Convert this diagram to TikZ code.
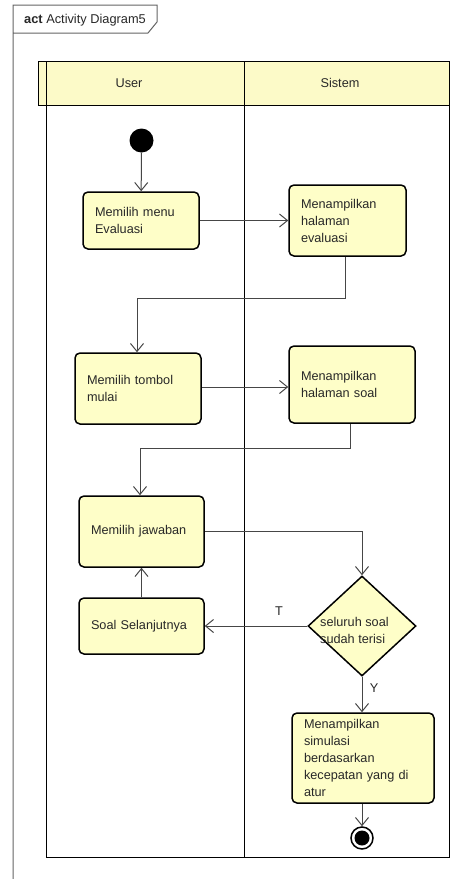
\documentclass[tikz,border=0pt]{standalone}
\usepackage{fontspec}
\setmainfont{Liberation Sans}
\usetikzlibrary{shapes.geometric,arrows.meta}
\definecolor{actfill}{RGB}{254,254,200}
\definecolor{hdrfill}{RGB}{252,250,200}
\definecolor{ink}{RGB}{40,40,40}
\definecolor{wire}{RGB}{70,70,70}
\definecolor{framec}{RGB}{100,100,100}
\begin{document}
\begin{tikzpicture}[x=1pt,y=-1pt,
  every node/.style={font=\fontsize{12.7}{17}\selectfont, text=ink},
  action/.style={draw=black, line width=1.5pt, rounded corners=5pt, fill=actfill,
                 inner xsep=12pt, inner ysep=0pt, align=left, anchor=center},
  flow/.style={draw=wire, line width=1pt, -{Straight Barb[length=8pt,width=13pt]}},
  lane/.style={draw=black, line width=0.8pt},
  plain/.style={inner sep=0pt},
]
% canvas
\fill[white] (0,0) rectangle (476,879);
\useasboundingbox (0,0) rectangle (476,879);

% diagram frame with its name tab
\draw[framec, line width=1pt] (13,879) -- (13,5) -- (157,5) -- (157,22) -- (148,33) -- (13,33);
\node[plain, anchor=west, font=\fontsize{12.8}{14}\selectfont] (title) at (24,20) {\textbf{act} Activity Diagram5};

% swimlanes
\draw[lane, fill=hdrfill] (38,61) rectangle (449,105);
\draw[lane] (46,61) -- (46,105);
\draw[lane] (46,105) rectangle (449,857);
\draw[lane] (244,61) -- (244,857);
\node[plain] (userhd) at (129,83) {User};
\node[plain] (sishd) at (340,83) {Sistem};

% initial and final nodes
\node[circle, fill=black, minimum size=24pt, inner sep=0pt] (start) at (141.5,140.5) {};
\node[circle, draw=black, line width=1.5pt, fill=white, minimum size=22pt, inner sep=0pt] (stop) at (362,838) {};
\fill[black] (stop.center) circle (7.5pt);

% actions
\node[action, text width=92pt, minimum height=57pt] (box1) at (141,220.5) {Memilih menu\\Evaluasi};
\node[action, text width=93pt, minimum height=71pt] (box2) at (347.5,220.5) {Menampilkan\\halaman\\evaluasi};
\node[action, text width=102pt, minimum height=71pt] (box3) at (138,388.5) {Memilih tombol\\mulai};
\node[action, text width=102pt, minimum height=77pt] (box4) at (352,384.5) {Menampilkan\\halaman soal};
\node[action, text width=101pt, minimum height=71pt] (box5) at (141.5,531.5) {Memilih jawaban};
\node[action, text width=101pt, minimum height=56pt] (box6) at (141.5,626) {Soal Selanjutnya};
\node[action, text width=118pt, minimum height=90pt] (box7) at (363,758) {Menampilkan\\simulasi\\berdasarkan\\kecepatan yang di\\atur};

% decision
\node[diamond, draw=black, line width=1.5pt, fill=actfill, minimum width=108pt, minimum height=100pt, inner sep=0pt] (dec) at (362,626) {};
\node[plain, anchor=west, align=left] (dectext) at (320,630) {seluruh soal\\sudah terisi};

% bend points
\coordinate (a1) at (345,298);
\coordinate (a2) at (137,298);
\coordinate (r2) at (0,387);
\coordinate (a3) at (350,448);
\coordinate (a4) at (140,448);

% flows
\draw[flow] (start) -- (box1);
\draw[flow] (box1.east) -- (box2.west);
\draw[flow] (box2.south -| a1) -- (a1) -- (a2) -- (box3.north -| a2);
\draw[flow] (box3.east |- r2) -- (box4.west |- r2);
\draw[flow] (box4.south -| a3) -- (a3) -- (a4) -- (box5.north -| a4);
\draw[flow] (box5.east) -| (dec.north);
\draw[flow] (dec.west) -- (box6.east);
\draw[flow] (box6.north) -- (box5.south);
\draw[flow] (dec.south) -- (box7.north -| dec.south);
\draw[flow] (box7.south -| stop) -- (stop);

% guard labels
\node[plain] (tlabel) at (279,611) {T};
\node[plain] (ylabel) at (374,688) {Y};
\end{tikzpicture}
\end{document}
